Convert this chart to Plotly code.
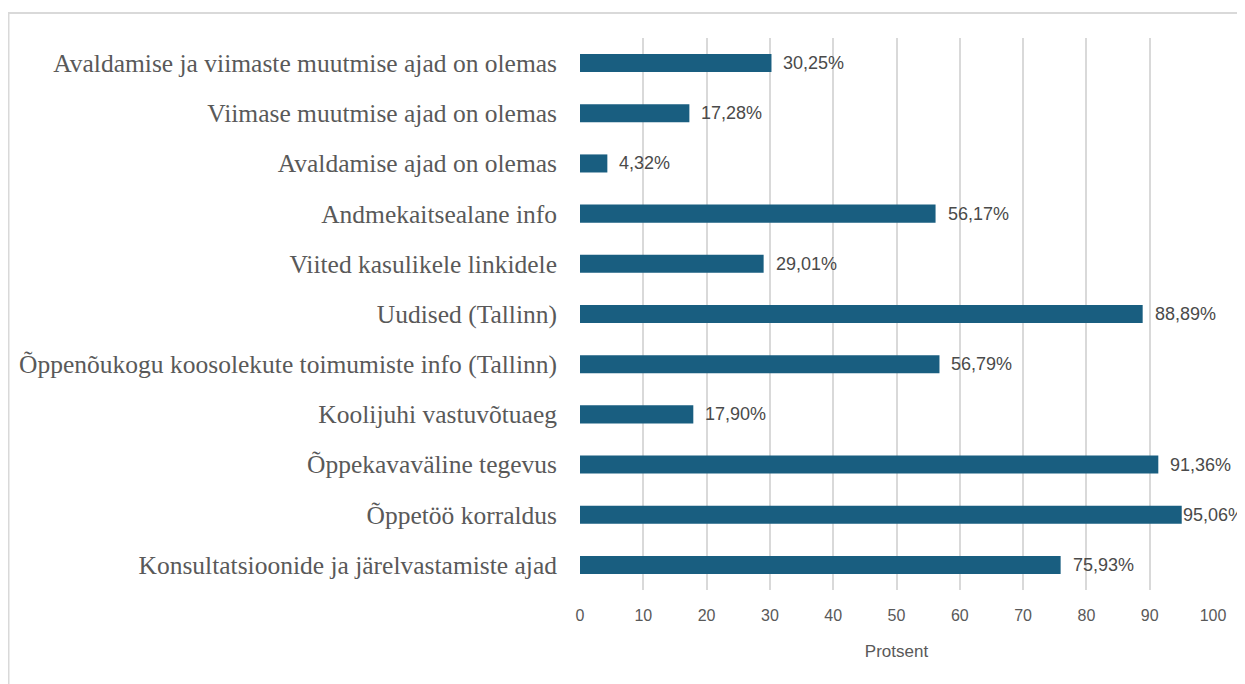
import plotly.graph_objects as go

categories = [
    "Avaldamise ja viimaste muutmise ajad on olemas",
    "Viimase muutmise ajad on olemas",
    "Avaldamise ajad on olemas",
    "Andmekaitsealane info",
    "Viited kasulikele linkidele",
    "Uudised (Tallinn)",
    "Õppenõukogu koosolekute toimumiste info (Tallinn)",
    "Koolijuhi vastuvõtuaeg",
    "Õppekavaväline tegevus",
    "Õppetöö korraldus",
    "Konsultatsioonide ja järelvastamiste ajad",
]
values = [30.25, 17.28, 4.32, 56.17, 29.01, 88.89, 56.79, 17.90, 91.36, 95.06, 75.93]
labels = [f"{v:.2f}%".replace(".", ",") for v in values]
x_ticks = list(range(0, 101, 10))

fig = go.Figure()
fig.add_trace(go.Bar(
    y=categories, x=values, orientation="h",
    marker=dict(color="#195E80", line=dict(width=0)),
    width=0.36, hoverinfo="skip",
))

for c, v, lab in zip(categories, values, labels):
    fig.add_annotation(
        x=v, y=c, xref="x", yref="y", text=lab, showarrow=False,
        xanchor="left", xshift=(-1 if v > 93 else 10),
        font=dict(family="Liberation Sans", size=18, color="#4a4a4a"),
    )

# page offset of 8px (browser body margin)
OFF = 8
W, H = 1245 - OFF, 684 - OFF
L, R, T, B = 580 - OFF, 1245 - 1213, 38 - OFF, 684 - 590
pw, ph = W - L - R, H - T - B
def px(x): return (x - OFF - L) / pw
def py(y): return 1 - (y - OFF - T) / ph

fig.add_shape(type="line", xref="paper", yref="paper",
              x0=px(8), x1=px(1250), y0=py(13), y1=py(13),
              line=dict(color="#d9d9d9", width=2))
fig.add_shape(type="line", xref="paper", yref="paper",
              x0=px(8.5), x1=px(8.5), y0=py(13), y1=py(690),
              line=dict(color="#d9d9d9", width=2))

fig.update_layout(
    width=W, height=H,
    margin=dict(l=L, r=R, t=T, b=B),
    paper_bgcolor="white", plot_bgcolor="white",
    showlegend=False,
    xaxis=dict(
        range=[0, 100], tickvals=x_ticks, ticktext=[str(t) for t in x_ticks],
        showgrid=True, gridcolor="#d9d9d9", gridwidth=2,
        zeroline=False, showline=False, ticks="",
        ticklabelstandoff=14,
        tickfont=dict(family="Liberation Sans", size=16, color="#595959"),
        title=dict(text="Protsent", standoff=22,
                   font=dict(family="Liberation Sans", size=17, color="#595959")),
        fixedrange=True,
    ),
    yaxis=dict(
        categoryorder="array", categoryarray=categories, autorange="reversed",
        showgrid=False, zeroline=False, showline=False, ticks="",
        ticklabelstandoff=22,
        tickfont=dict(family="Liberation Serif", size=25.5, color="#595959"),
        fixedrange=True,
    ),
)

fig.write_html("out.html")
